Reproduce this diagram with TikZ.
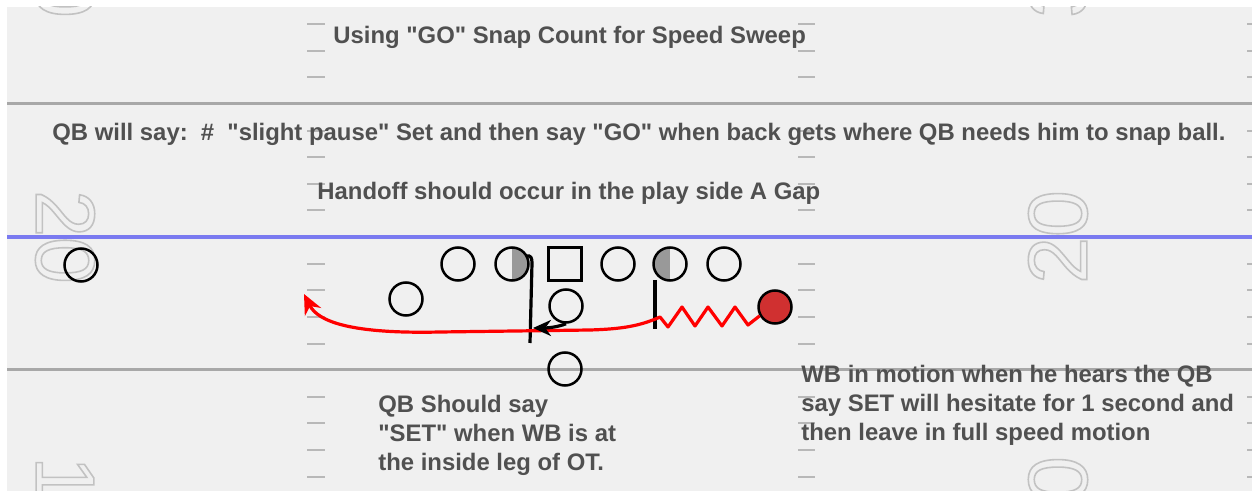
\documentclass[tikz,border=0pt]{standalone}
\usepackage{fontspec}
\setmainfont{Liberation Sans}[Ligatures=TeXOff]
\usetikzlibrary{arrows.meta}

\definecolor{fieldbg}{HTML}{F0F0F0}
\definecolor{txt}{HTML}{505050}
\definecolor{yardline}{HTML}{A8A8A8}
\definecolor{losline}{HTML}{7A7AF0}
\definecolor{hashc}{HTML}{B8B8B8}
\definecolor{numc}{HTML}{C2C2C2}
\definecolor{wbred}{HTML}{D03030}
\definecolor{halfgray}{HTML}{999999}
\definecolor{routered}{HTML}{FF0000}

% stroke-only glyphs for the yard numbers
\newcommand{\hollowdigits}[1]{\special{pdf:literal direct 1 Tr 0.8 w}#1\special{pdf:literal direct 0 Tr}}
% straight double quote
\newcommand{\dq}{\symbol{34}}

\begin{document}
\begin{tikzpicture}[x=0.5pt,y=-0.5pt,
  player/.style={circle, draw=black, line width=1.25pt, minimum size=16.5pt, inner sep=0pt},
  center/.style={rectangle, draw=black, line width=1.25pt, minimum size=16.5pt, inner sep=0pt},
  halfright/.style={player, path picture={\fill[halfgray] (path picture bounding box.north) rectangle (path picture bounding box.south east);}},
  halfleft/.style={player, path picture={\fill[halfgray] (path picture bounding box.north west) rectangle (path picture bounding box.south);}},
  motionman/.style={player, fill=wbred},
  note/.style={font=\bfseries\fontsize{11.94}{14.25}\selectfont, text=txt, inner sep=0pt, anchor=base west},
  yardnum/.style={font=\fontsize{42}{42}\selectfont, text=numc, inner sep=0pt},
  hashmark/.style={draw=hashc, line width=1pt},
  fieldline/.style={draw=yardline, line width=1.5pt},
  route/.style={draw=routered, line width=1.6pt, line join=round},
  action/.style={draw=black, line width=1.6pt},
  blockline/.style={draw=black, line width=1.6pt}
]
\useasboundingbox (0,0) rectangle (1252,491);
\fill[white] (0,0) rectangle (1252,491);
\fill[fieldbg] (7,7) rectangle (1252,491);

% yard numbers
\begin{scope}
  \clip (7,7) rectangle (1252,491);
  \node[yardnum, rotate=-90] (numTL) at (65,-29) {\hollowdigits{30}};
  \node[yardnum, rotate=90] (numTR) at (1058,-29) {\hollowdigits{30}};
  \node[yardnum, rotate=-90] (numML) at (65,237) {\hollowdigits{20}};
  \node[yardnum, rotate=90] (numMR) at (1058,237) {\hollowdigits{20}};
  \node[yardnum, rotate=-90] (numBL) at (65,503) {\hollowdigits{10}};
  \node[yardnum, rotate=90] (numBR) at (1058,503) {\hollowdigits{10}};
\end{scope}

% hash marks
\foreach \hy in {24,51,77,131,157,184,210,264,290,317,344,397,423,450,477} {
  \draw[hashmark] (307,\hy) -- (325,\hy);
  \draw[hashmark] (798,\hy) -- (815,\hy);
  \draw[hashmark] (1247,\hy) -- (1252,\hy);
}

% yard lines and line of scrimmage
\draw[fieldline] (7,104) -- (1252,104);
\draw[fieldline] (7,370) -- (1252,370);
\draw[draw=losline, line width=1.6pt] (7,237) -- (1252,237);

% texts
\node[note] (title) at (333,44) {Using \dq GO\dq\ Snap Count for Speed Sweep};
\node[note] (cadence) at (52,141) {QB will say:\hspace{6.6pt}\#\hspace{6.6pt}\dq slight pause\dq\ Set and then say \dq GO\dq\ when back gets where QB needs him to snap ball.};
\node[note] (handoff) at (317,200) {Handoff should occur in the play side A Gap};
\node[note] (qbnote) at (378,413) {\vtop{\hbox{QB Should say}\hbox{\dq SET\dq\ when WB is at}\hbox{the inside leg of OT.}}};
\node[note] (wbnote) at (801,383) {\vtop{\hbox{WB in motion when he hears the QB}\hbox{say SET will hesitate for 1 second and}\hbox{then leave in full speed motion}}};

% offense
\node[player] (wr) at (81,265) {};
\node[player] (lt) at (458,264) {};
\node[halfright] (lg) at (512,264) {};
\node[center] (c) at (565,264) {};
\node[player] (rg) at (618,264) {};
\node[halfleft] (rt) at (670,264) {};
\node[player] (te) at (724,264) {};
\node[player] (hb) at (406,299) {};
\node[player] (qb) at (566,306) {};
\node[motionman] (wb) at (775,307) {};
\node[player] (fb) at (565,369) {};

% blocking marks
\coordinate (lgtop) at (526,256);
\coordinate (lgend) at (530,343);
\coordinate (rttop) at (655,280);
\coordinate (rtend) at (655,329);
\draw[blockline] (lgtop) .. controls (531,255) and (532,258) .. (532,263) -- (lgend);
\draw[blockline] (rttop) -- (rtend);

% speed sweep route of the wing back
\coordinate (sweepend) at (304,294);
\draw[route, -{Stealth[length=10pt,width=9pt]}] (wb.210) -- (748,325) -- (735,307) -- (722,326) -- (708,307) -- (695,326) -- (682,307) -- (668,327) -- (660,317)
  .. controls (640,326) and (622,329) .. (590,330) -- (440,332)
  .. controls (352,334) and (318,322) .. (sweepend);

% quarterback handoff
\coordinate (mesh) at (533,328);
\draw[action, -{Stealth[length=9pt,width=8pt]}] (qb.south) .. controls (558,327) and (548,328) .. (mesh);
\end{tikzpicture}
\end{document}
